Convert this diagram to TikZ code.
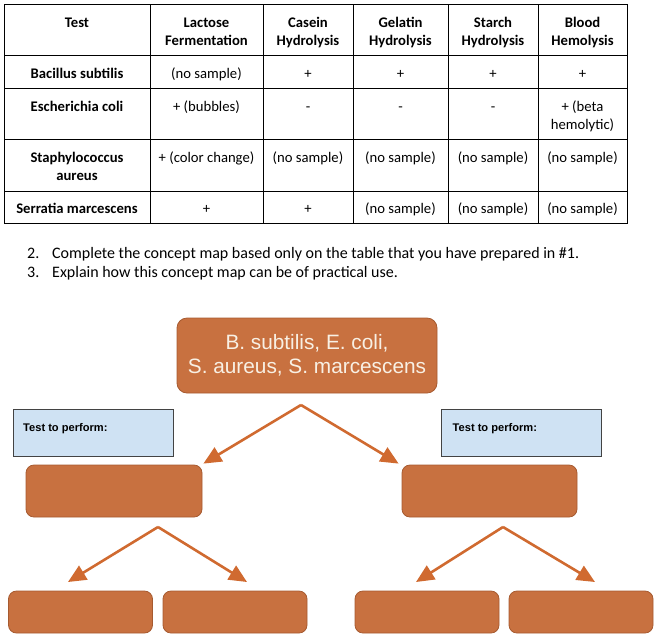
\documentclass[tikz,border=0pt]{standalone}
\usepackage{fontspec}
\setmainfont{Carlito}
\newfontfamily\arialfont{Liberation Sans}
\usetikzlibrary{arrows.meta}
\definecolor{boxorange}{RGB}{200,113,64}
\definecolor{boxedge}{RGB}{166,90,48}
\definecolor{arroworange}{RGB}{208,106,48}
\definecolor{testblue}{RGB}{207,226,243}
\definecolor{testedge}{RGB}{67,67,67}
\definecolor{boxtext}{RGB}{248,240,228}
\tikzset{
  cell/.style={anchor=north, inner sep=0pt, align=center, font=\fontsize{14.67}{18}\selectfont},
  headcell/.style={cell, font=\fontsize{14.67}{18}\selectfont\bfseries},
  listline/.style={anchor=base west, inner sep=0pt, font=\fontsize{16}{19}\selectfont},
  mapbox/.style={draw=boxedge, line width=0.8pt, fill=boxorange, rounded corners=8pt, inner sep=0pt},
  testbox/.style={draw=testedge, line width=0.9pt, fill=testblue, minimum width=160pt, minimum height=47pt, inner sep=0pt},
  testlabel/.style={anchor=base west, inner sep=0pt, font=\arialfont\fontsize{11.1}{13}\selectfont\bfseries},
  maparrow/.style={draw=arroworange, line width=2.6pt, -{Triangle[length=18pt,width=16pt]}}
}
\begin{document}
\begin{tikzpicture}[x=1pt,y=-1pt]

    \useasboundingbox (0,0) rectangle (658,638);

    \draw[line width=1pt] (4,4) rectangle (627,223);
    \draw[line width=1pt] (4,55) -- (627,55);
    \draw[line width=1pt] (4,88) -- (627,88);
    \draw[line width=1pt] (4,139) -- (627,139);
    \draw[line width=1pt] (4,191) -- (627,191);
    \draw[line width=1pt] (150,4) -- (150,223);
    \draw[line width=1pt] (263,4) -- (263,223);
    \draw[line width=1pt] (353,4) -- (353,223);
    \draw[line width=1pt] (448,4) -- (448,223);
    \draw[line width=1pt] (538,4) -- (538,223);

    \node[headcell] (hTest) at (77,15) {\strut Test};
    \node[headcell] (hLactose) at (206.5,15) {\strut Lactose\\Fermentation};
    \node[headcell] (hCasein) at (308,15) {\strut Casein\\Hydrolysis};
    \node[headcell] (hGelatin) at (400.5,15) {\strut Gelatin\\Hydrolysis};
    \node[headcell] (hStarch) at (493,15) {\strut Starch\\Hydrolysis};
    \node[headcell] (hBlood) at (582.5,15) {\strut Blood\\Hemolysis};

    \node[headcell] (bsName) at (77,66) {\strut Bacillus subtilis};
    \node[cell] (bsLactose) at (206.5,66) {\strut (no sample)};
    \node[cell] (bsCasein) at (308,66) {\strut +};
    \node[cell] (bsGelatin) at (400.5,66) {\strut +};
    \node[cell] (bsStarch) at (493,66) {\strut +};
    \node[cell] (bsBlood) at (582.5,66) {\strut +};

    \node[headcell] (ecName) at (77,99) {\strut Escherichia coli};
    \node[cell] (ecLactose) at (206.5,99) {\strut + (bubbles)};
    \node[cell] (ecCasein) at (308,99) {\strut -};
    \node[cell] (ecGelatin) at (400.5,99) {\strut -};
    \node[cell] (ecStarch) at (493,99) {\strut -};
    \node[cell] (ecBlood) at (582.5,99) {\strut + (beta\\hemolytic)};

    \node[headcell] (saName) at (77,150) {\strut Staphylococcus\\aureus};
    \node[cell] (saLactose) at (206.5,150) {\strut + (color change)};
    \node[cell] (saCasein) at (308,150) {\strut (no sample)};
    \node[cell] (saGelatin) at (400.5,150) {\strut (no sample)};
    \node[cell] (saStarch) at (493,150) {\strut (no sample)};
    \node[cell] (saBlood) at (582.5,150) {\strut (no sample)};

    \node[headcell] (smName) at (77,201) {\strut Serratia marcescens};
    \node[cell] (smLactose) at (206.5,201) {\strut +};
    \node[cell] (smCasein) at (308,201) {\strut +};
    \node[cell] (smGelatin) at (400.5,201) {\strut (no sample)};
    \node[cell] (smStarch) at (493,201) {\strut (no sample)};
    \node[cell] (smBlood) at (582.5,201) {\strut (no sample)};

    \node[listline] (num2) at (27,258) {2.};
    \node[listline] (item2) at (52,258) {Complete the concept map based only on the table that you have prepared in \#1.};
    \node[listline] (num3) at (27,277) {3.};
    \node[listline] (item3) at (52,277) {Explain how this concept map can be of practical use.};

    \node[mapbox, rounded corners=10pt, minimum width=260pt, minimum height=75pt, align=center, text=boxtext,
          font=\arialfont\fontsize{20.8}{23.5}\selectfont] (species) at (307,355.5) {B. subtilis, E. coli,\\S. aureus, S. marcescens};

    \node[testbox] (performL) at (93,432.5) {};
    \node[testbox] (performR) at (521.5,432.5) {};
    \node[testlabel] (performLtext) at (23,431) {Test to perform:};
    \node[testlabel] (performRtext) at (452.5,431) {Test to perform:};

    \node[mapbox, minimum width=176pt, minimum height=52pt] (resultL) at (114,491) {};
    \node[mapbox, minimum width=175pt, minimum height=52pt] (resultR) at (489.5,491) {};

    \node[mapbox, minimum width=144pt, minimum height=42pt] (leafA) at (80.5,612) {};
    \node[mapbox, minimum width=144pt, minimum height=42pt] (leafB) at (235,612) {};
    \node[mapbox, minimum width=144pt, minimum height=42pt] (leafC) at (427,612) {};
    \node[mapbox, minimum width=144pt, minimum height=42pt] (leafD) at (581,612) {};

    \coordinate (splitTop) at (301,405);
    \coordinate (splitL) at (158,527);
    \coordinate (splitR) at (503,527);
    \coordinate (pointA) at (68,582);
    \coordinate (pointB) at (247,582);
    \coordinate (pointC) at (416,582);
    \coordinate (pointD) at (595,582);

    \draw[maparrow] (splitTop) -- ([xshift=1pt,yshift=1pt]resultL.north east);
    \draw[maparrow] (splitTop) -- ([xshift=-3pt,yshift=1pt]resultR.north west);
    \draw[maparrow] (splitL) -- (pointA);
    \draw[maparrow] (splitL) -- (pointB);
    \draw[maparrow] (splitR) -- (pointC);
    \draw[maparrow] (splitR) -- (pointD);

\end{tikzpicture}
\end{document}
